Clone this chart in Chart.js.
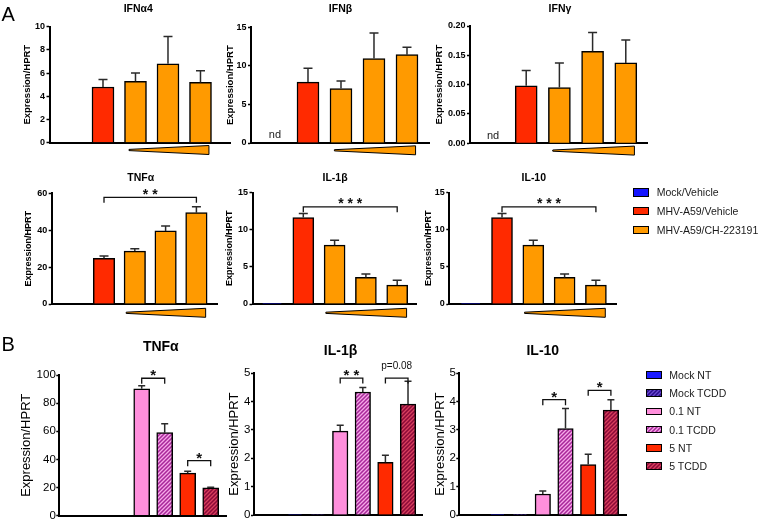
<!DOCTYPE html>
<html><head><meta charset="utf-8">
<script src="https://cdn.jsdelivr.net/npm/chart.js@4.4.1/dist/chart.umd.min.js"></script>
<style>
html,body{margin:0;padding:0;background:#fff;}
#wrap{position:relative;width:760px;height:523px;overflow:hidden;font-family:'Liberation Sans',Arial,sans-serif;}
#wrap canvas{position:absolute;left:0;top:0;}
.t{position:absolute;white-space:nowrap;color:#1a1a1a;}
.box{position:absolute;box-sizing:border-box;border:1.5px solid #000;}
</style></head>
<body><div id="wrap"></div>
<script>
// ---------- DATA ----------
const groupsA = ['Mock/Vehicle', 'MHV-A59/Vehicle', 'MHV-A59/CH-223191'];
const barsA = ['Mock/Vehicle', 'MHV-A59/Vehicle', 'CH-223191 low', 'CH-223191 mid', 'CH-223191 high'];
const barGroupA = [0, 1, 2, 2, 2];

const ifna4 = [0, 4.8, 5.3, 6.8, 5.2];
const ifna4Err = [0, 0.65, 0.7, 2.35, 1.0];
const ifnb = [null, 7.9, 7.05, 10.95, 11.45];       // null = nd
const ifnbErr = [0, 1.8, 1.0, 3.3, 0.95];
const ifng = [null, 0.098, 0.095, 0.157, 0.137];
const ifngErr = [0, 0.026, 0.042, 0.032, 0.039];
const tnfA = [0, 24.8, 28.7, 39.6, 49.5];
const tnfAErr = [0, 1.2, 1.3, 2.7, 3.2];
const il1bA = [0.03, 11.65, 7.93, 3.58, 2.55];
const il1bAErr = [0, 0.55, 0.67, 0.45, 0.65];
const il10A = [0.03, 11.65, 7.93, 3.58, 2.55];
const il10AErr = [0, 0.55, 0.67, 0.45, 0.65];

const catsB = ['Mock NT', 'Mock TCDD', '0.1 NT', '0.1 TCDD', '5 NT', '5 TCDD'];
const tnfB = [0, 0, 90.2, 59.0, 30.2, 19.7];
const tnfBErr = [0, 0, 2.1, 6.3, 1.4, 0.4];
const il1bB = [0.02, 0.02, 2.96, 4.34, 1.86, 3.91];
const il1bBErr = [0, 0, 0.21, 0.16, 0.25, 0.81];
const il10B = [0.01, 0.01, 0.74, 3.05, 1.78, 3.70];
const il10BErr = [0, 0, 0.11, 0.71, 0.36, 0.37];

const ticksIfna4 = [0, 2, 4, 6, 8, 10];
const ticksIfnb = [0, 5, 10, 15];
const ticksIfng = [0, 0.05, 0.10, 0.15, 0.20];
const ticksTnfA = [0, 20, 40, 60];
const ticksIl1bA = [0, 5, 10, 15];
const ticksIl10A = [0, 5, 10, 15];
const ticksTnfB = [0, 20, 40, 60, 80, 100];
const ticksIl1bB = [0, 1, 2, 3, 4, 5];
const ticksIl10B = [0, 1, 2, 3, 4, 5];

// significance brackets: from/to category index, height in data units
const sigTnfA = [{from: 1, to: 4, y: 57.8, label: '* *'}];
const sigIl1bA = [{from: 1, to: 4, y: 13.1, label: '* * *'}];
const sigIl10A = [{from: 1, to: 4, y: 13.1, label: '* * *'}];
const sigTnfB = [{from: 2, to: 3, y: 97.7, label: '*'}, {from: 4, to: 5, y: 39.1, label: '*'}];
const sigIl1bB = [{from: 2, to: 3, y: 4.83, label: '* *'}, {from: 4, to: 5, y: 4.83, label: 'p=0.08'}];
const sigIl10B = [{from: 2, to: 3, y: 4.07, label: '*'}, {from: 4, to: 5, y: 4.40, label: '*'}];

// ---------- STYLE ----------
const FONT = "'Liberation Sans', Arial, sans-serif";
const colA = ['#1414ff', '#ff2a00', '#ff9a00'];
function stripeTile(base, line) {
  const s = 4, c = document.createElement('canvas');
  c.width = s; c.height = s;
  const g = c.getContext('2d');
  g.fillStyle = base; g.fillRect(0, 0, s, s);
  g.strokeStyle = line; g.lineWidth = 1.3;
  g.beginPath();
  g.moveTo(0, s); g.lineTo(s, 0);
  g.moveTo(-s / 2, s / 2); g.lineTo(s / 2, -s / 2);
  g.moveTo(s / 2, s * 1.5); g.lineTo(s * 1.5, s / 2);
  g.stroke();
  return c;
}
const pctx = document.createElement('canvas').getContext('2d');
const tilesB = [null, stripeTile('#2a0c8c', '#6a4ad0'), null, stripeTile('#a8289a', '#f6a8e8'), null, stripeTile('#8c0a38', '#d8405e')];
const solidB = ['#1a1aff', null, '#ff8fdc', null, '#ff2a00', null];
const colB = catsB.map((c, i) => tilesB[i] ? pctx.createPattern(tilesB[i], 'repeat') : solidB[i]);

const wrap = document.getElementById('wrap');

function decoPlugin(sp) {
  return {
    id: 'deco',
    afterDatasetsDraw(chart) {
      const ctx = chart.ctx, xs = chart.scales.x, ys = chart.scales.y, ca = chart.chartArea;
      ctx.save();
      // error bars
      ctx.strokeStyle = '#2a2a2a'; ctx.lineWidth = 1.5;
      sp.values.forEach((v, i) => {
        const e = sp.err[i];
        if (v == null || !e) return;
        const x = xs.getPixelForValue(i), y0 = ys.getPixelForValue(v), y1 = ys.getPixelForValue(v + e);
        ctx.beginPath();
        ctx.moveTo(x, y0); ctx.lineTo(x, y1);
        ctx.moveTo(x - sp.cap / 2, y1); ctx.lineTo(x + sp.cap / 2, y1);
        ctx.stroke();
      });
      // nd labels
      ctx.fillStyle = '#1a1a1a';
      ctx.font = '11px ' + FONT; ctx.textAlign = 'center'; ctx.textBaseline = 'alphabetic';
      sp.values.forEach((v, i) => {
        if (v == null) ctx.fillText('nd', xs.getPixelForValue(i), ca.bottom - 4.7);
      });
      // dose wedge
      if (sp.wedge) {
        const xa = xs.getPixelForValue(sp.wedge.from), xb = xs.getPixelForValue(sp.wedge.to);
        const yc = ca.bottom + sp.wedge.dy, h = 4.5;
        ctx.beginPath();
        ctx.moveTo(xa, yc - 0.6); ctx.lineTo(xb, yc - h); ctx.lineTo(xb, yc + h); ctx.lineTo(xa, yc + 0.6);
        ctx.closePath();
        ctx.fillStyle = '#ff9a00'; ctx.fill();
        ctx.strokeStyle = '#000'; ctx.lineWidth = 1; ctx.stroke();
      }
      // brackets
      (sp.sig || []).forEach(s => {
        const x1 = xs.getPixelForValue(s.from), x2 = xs.getPixelForValue(s.to), yt = ys.getPixelForValue(s.y);
        ctx.strokeStyle = '#111'; ctx.lineWidth = 1.3;
        ctx.beginPath();
        ctx.moveTo(x1, yt + 5.5); ctx.lineTo(x1, yt); ctx.lineTo(x2, yt); ctx.lineTo(x2, yt + 5.5);
        ctx.stroke();
        ctx.fillStyle = '#111'; ctx.textAlign = 'center'; ctx.textBaseline = 'alphabetic';
        if (s.label.indexOf('*') >= 0) {
          ctx.font = 'bold ' + sp.starSize + 'px ' + FONT;
          ctx.fillText(s.label, (x1 + x2) / 2, yt - 6.6 + 0.57 * sp.starSize);
        } else {
          ctx.font = '10px ' + FONT;
          ctx.fillText(s.label, (x1 + x2) / 2, yt - 8.7);
        }
      });
      // panel title
      ctx.fillStyle = '#000'; ctx.textAlign = 'center'; ctx.textBaseline = 'alphabetic';
      ctx.font = 'bold ' + sp.titleSize + 'px ' + FONT;
      ctx.fillText(sp.title, sp.titleX, sp.titleBase);
      ctx.restore();
    }
  };
}

function makeChart(sp) {
  const cv = document.createElement('canvas');
  cv.width = 760; cv.height = 523;
  wrap.appendChild(cv);
  const lh = sp.yTitleSize * 1.2;
  const scaleLeft = sp.ytx - lh / 2;
  const yw = sp.L - scaleLeft;
  const ticks = sp.ticks;
  new Chart(cv, {
    type: 'bar',
    data: {
      datasets: [{
        data: sp.values.map((v, i) => ({x: i, y: v})),
        backgroundColor: sp.colors,
        borderColor: '#000',
        borderWidth: 1.5,
        borderSkipped: 'start',
        barThickness: sp.barW
      }]
    },
    options: {
      responsive: false, animation: false, devicePixelRatio: 1, events: [],
      layout: {padding: {left: scaleLeft, top: sp.T, right: 760 - sp.R, bottom: 523 - sp.B}},
      plugins: {legend: {display: false}, tooltip: {enabled: false}, title: {display: false}},
      scales: {
        x: {
          type: 'linear', min: sp.xmin, max: sp.xmax, offset: false,
          ticks: {display: false}, grid: {display: false},
          border: {display: true, color: '#000', width: sp.axisW},
          afterFit: s => { s.height = 0; }
        },
        y: {
          type: 'linear', min: ticks[0], max: ticks[ticks.length - 1],
          afterBuildTicks: s => { s.ticks = ticks.map(v => ({value: v})); },
          ticks: {
            color: '#000', padding: sp.tickPad,
            font: {family: FONT, size: sp.tickSize, weight: sp.tickWeight},
            callback: v => sp.dec ? Number(v).toFixed(sp.dec) : String(v)
          },
          grid: {display: true, drawOnChartArea: false, drawTicks: true, tickLength: 3, tickWidth: 1.5, tickColor: '#000'},
          border: {display: true, color: '#000', width: sp.axisW},
          title: {display: true, text: 'Expression/HPRT', color: '#000', padding: 0,
                  font: {family: FONT, size: sp.yTitleSize, weight: sp.yTitleWeight}},
          afterFit: s => { s.width = yw; }
        }
      }
    },
    plugins: [decoPlugin(sp)]
  });
}

const colorsA = barGroupA.map(g => colA[g]);
const baseA = {colors: colorsA, barW: 22, cap: 9, axisW: 2, tickSize: 9, tickWeight: 'bold', tickPad: 1.5,
               yTitleSize: 9.5, yTitleWeight: 'bold', titleSize: 10.5, starSize: 14};
const row1W = {from: 1.8, to: 4.26, dy: 7.3};
const row2W = {from: 1.72, to: 4.3, dy: 8.8};

makeChart(Object.assign({}, baseA, {values: ifna4, err: ifna4Err, ticks: ticksIfna4, title: 'IFNα4',
  L: 49.5, T: 26.7, R: 230, B: 142.7, xmin: -0.646, xmax: 4.908, ytx: 27, titleX: 138.3, titleBase: 11.7, wedge: row1W}));
makeChart(Object.assign({}, baseA, {values: ifnb, err: ifnbErr, ticks: ticksIfnb, title: 'IFNβ',
  L: 251, T: 27.3, R: 429, B: 143, xmin: -0.727, xmax: 4.667, ytx: 230, titleX: 340.5, titleBase: 11.7, wedge: row1W}));
makeChart(Object.assign({}, baseA, {values: ifng, err: ifngErr, ticks: ticksIfng, dec: 2, title: 'IFNγ',
  L: 470, T: 26, R: 647, B: 143.3, xmin: -0.693, xmax: 4.639, ytx: 439.3, titleX: 560, titleBase: 11.7, wedge: row1W}));
makeChart(Object.assign({}, baseA, {values: tnfA, err: tnfAErr, ticks: ticksTnfA, title: 'TNFα', sig: sigTnfA, barW: 21.5, yTitleSize: 9,
  L: 51.7, T: 193.3, R: 218, B: 304, xmin: -0.698, xmax: 4.701, ytx: 28.3, titleX: 140.8, titleBase: 180.7, wedge: row2W}));
makeChart(Object.assign({}, baseA, {values: il1bA, err: il1bAErr, ticks: ticksIl1bA, title: 'IL-1β', sig: sigIl1bA, barW: 21, yTitleSize: 9,
  L: 252.5, T: 192.7, R: 416.7, B: 304, xmin: -0.623, xmax: 4.623, ytx: 230, titleX: 335, titleBase: 180.5, wedge: row2W}));
makeChart(Object.assign({}, baseA, {values: il10A, err: il10AErr, ticks: ticksIl10A, title: 'IL-10', sig: sigIl10A, barW: 21, yTitleSize: 9,
  L: 449.3, T: 192.7, R: 616, B: 304, xmin: -0.684, xmax: 4.642, ytx: 428.3, titleX: 533.8, titleBase: 180.5, wedge: row2W}));

const baseB = {colors: colB, barW: 16, cap: 7, axisW: 2, tickSize: 11.5, tickWeight: 'normal', tickPad: 0.5,
               yTitleSize: 13, yTitleWeight: 'normal', titleSize: 14, starSize: 15};
makeChart(Object.assign({}, baseB, {values: tnfB, err: tnfBErr, ticks: ticksTnfB, title: 'TNFα', sig: sigTnfB,
  L: 59.3, T: 375, R: 226.7, B: 517.3, xmin: -1.583, xmax: 5.696, ytx: 26.7, titleX: 160.8, titleBase: 350.7}));
makeChart(Object.assign({}, baseB, {values: il1bB, err: il1bBErr, ticks: ticksIl1bB, title: 'IL-1β', sig: sigIl1bB, barW: 15.5,
  L: 254, T: 373.3, R: 422.7, B: 515, xmin: -1.814, xmax: 5.65, ytx: 234.3, titleX: 340.5, titleBase: 355}));
makeChart(Object.assign({}, baseB, {values: il10B, err: il10BErr, ticks: ticksIl10B, title: 'IL-10', sig: sigIl10B, barW: 15.5,
  L: 459.3, T: 373.3, R: 626, B: 515, xmin: -1.678, xmax: 5.665, ytx: 440, titleX: 542.8, titleBase: 355}));

// ---------- LEGENDS & PANEL LETTERS ----------
function addText(txt, left, top, size, extra) {
  const d = document.createElement('div');
  d.className = 't'; d.textContent = txt;
  d.style.left = left + 'px'; d.style.top = top + 'px';
  d.style.fontSize = size + 'px'; d.style.lineHeight = '12px';
  if (extra) Object.assign(d.style, extra);
  wrap.appendChild(d);
}
function addBox(left, cy, w, h, bg) {
  const b = document.createElement('div');
  b.className = 'box';
  b.style.left = left + 'px'; b.style.top = (cy - h / 2) + 'px';
  b.style.width = w + 'px'; b.style.height = h + 'px';
  Object.assign(b.style, bg);
  wrap.appendChild(b);
}
groupsA.forEach((g, i) => {
  const cy = 192.3 + i * 18.9;
  addBox(633.3, cy, 16, 8.5, {background: colA[i]});
  addText(g, 656.7, cy - 6, 10.5);
});
catsB.forEach((g, i) => {
  const cy = 375 + i * 18.2;
  const bg = tilesB[i] ? {backgroundImage: 'url(' + tilesB[i].toDataURL() + ')'} : {background: solidB[i]};
  addBox(646, cy, 15.7, 7.5, bg);
  addText(g, 669.3, cy - 6, 10.5);
});
addText('A', 1.5, 4.4, 20, {lineHeight: '20px', color: '#000'});
addText('B', 1.5, 334.4, 20, {lineHeight: '20px', color: '#000'});
</script>
</body></html>
